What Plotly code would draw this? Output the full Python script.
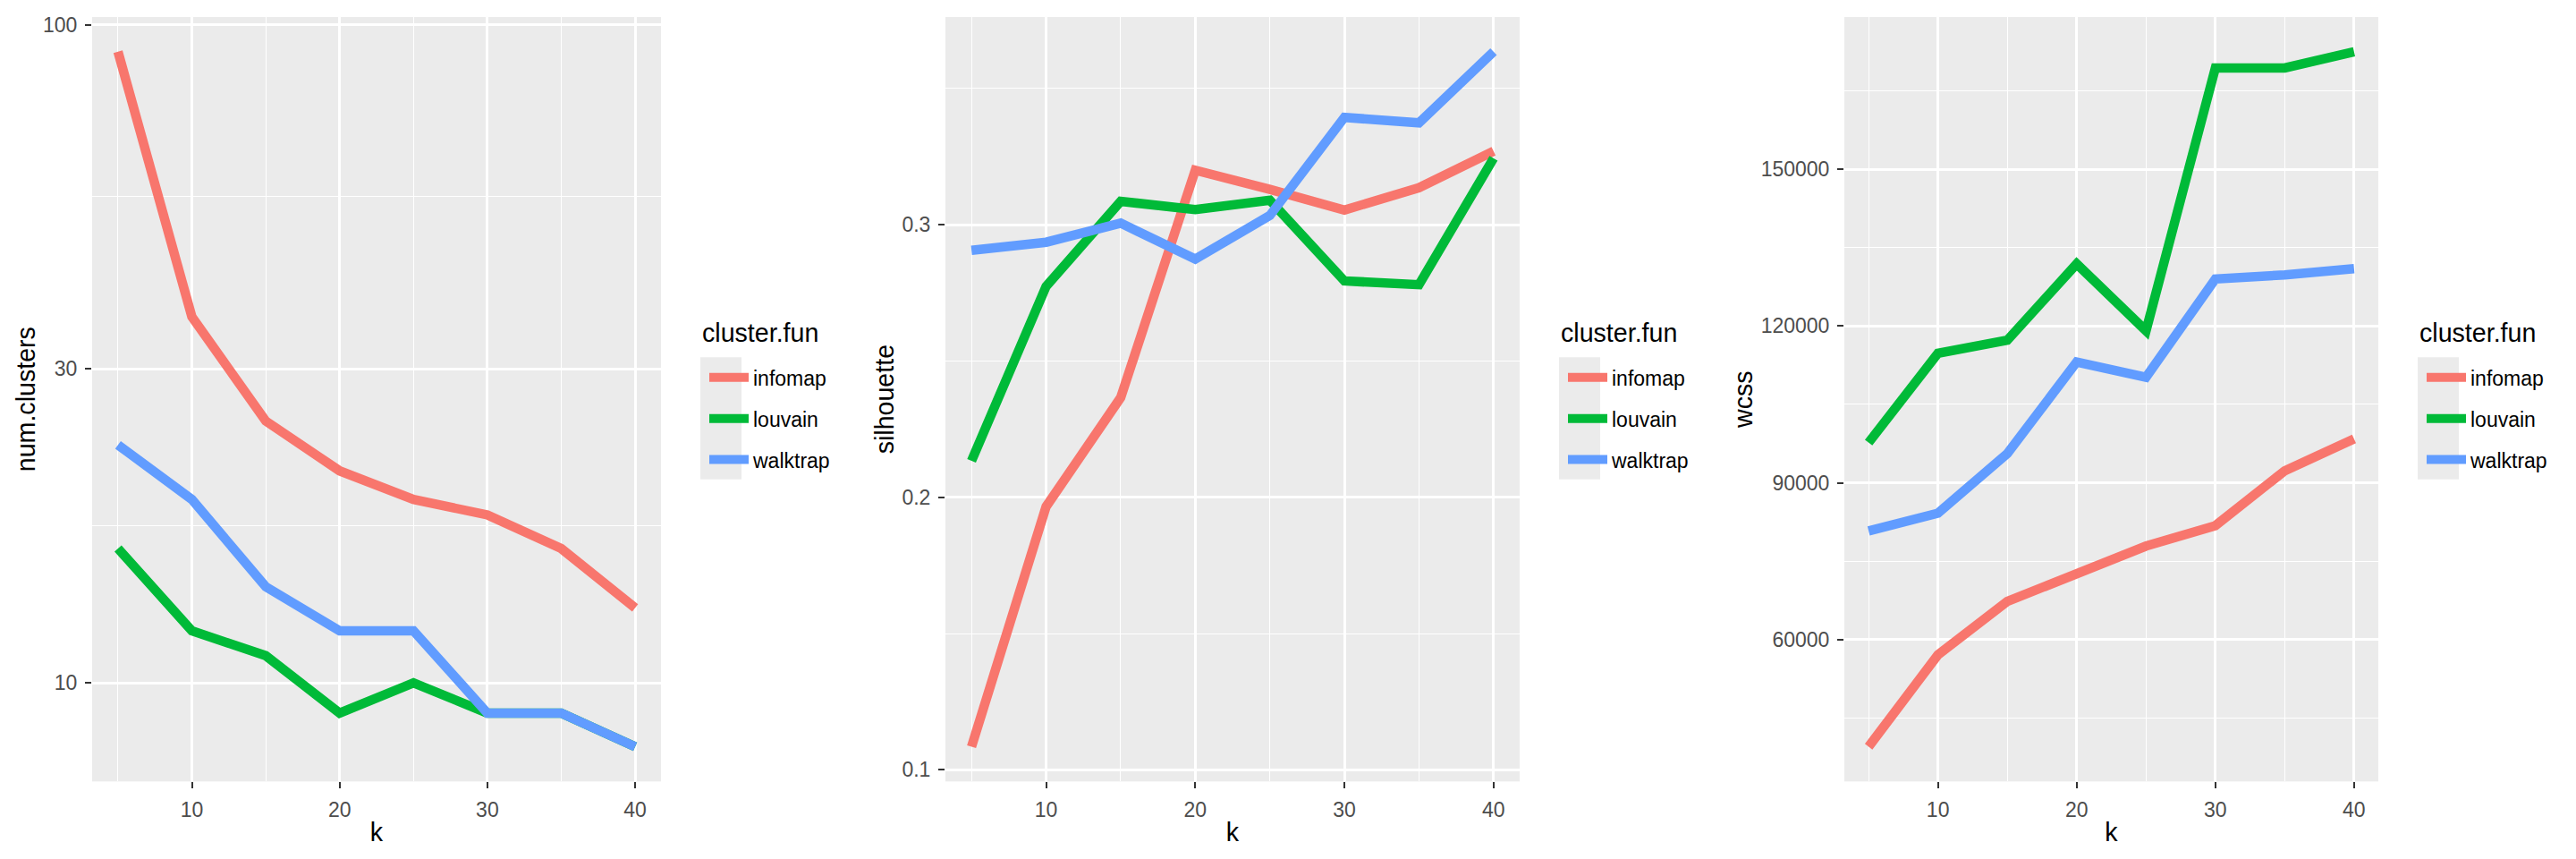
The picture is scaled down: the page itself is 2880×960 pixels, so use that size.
import numpy as np
import plotly.graph_objects as go

# ---------------- data ----------------
k = [5, 10, 15, 20, 25, 30, 35, 40]
methods = ["infomap", "louvain", "walktrap"]

num_clusters_infomap = [91, 36, 25, 21, 19, 18, 16, 13]
num_clusters_louvain = [16, 12, 11, 9, 10, 9, 9, 8]
num_clusters_walktrap = [23, 19, 14, 12, 12, 9, 9, 8]

silhouette_infomap = [0.1085, 0.1966, 0.2366, 0.3200, 0.3130, 0.3054, 0.3136, 0.3270]
silhouette_louvain = [0.2134, 0.2774, 0.3086, 0.3056, 0.3090, 0.2794, 0.2780, 0.3244]
silhouette_walktrap = [0.2906, 0.2936, 0.3006, 0.2874, 0.3034, 0.3394, 0.3374, 0.3635]

wcss_infomap = [39500, 57100, 67300, 72700, 77900, 81800, 92300, 98400]
wcss_louvain = [97700, 114800, 117300, 131900, 119100, 169400, 169400, 172500]
wcss_walktrap = [80800, 84200, 95600, 113100, 110200, 129000, 129800, 131000]

x_ticks = [10, 20, 30, 40]
x_minor = [5, 15, 25, 35]
nc_ticks = [10, 30, 100]
nc_ticktext = ["10", "30", "100"]
nc_minor = [float(np.sqrt(10 * 30)), float(np.sqrt(30 * 100))]
sil_ticks = [0.1, 0.2, 0.3]
sil_ticktext = ["0.1", "0.2", "0.3"]
sil_minor = [0.15, 0.25, 0.35]
wcss_ticks = [60000, 90000, 120000, 150000]
wcss_ticktext = ["60000", "90000", "120000", "150000"]
wcss_minor = [45000, 75000, 105000, 135000, 165000]

panels = [
    ("num.clusters", [num_clusters_infomap, num_clusters_louvain, num_clusters_walktrap], True,
     nc_ticks, nc_ticktext, nc_minor),
    ("silhouette", [silhouette_infomap, silhouette_louvain, silhouette_walktrap], False,
     sil_ticks, sil_ticktext, sil_minor),
    ("wcss", [wcss_infomap, wcss_louvain, wcss_walktrap], False,
     wcss_ticks, wcss_ticktext, wcss_minor),
]

# ---------------- style ----------------
colors = {"infomap": "#F8766D", "louvain": "#00BA38", "walktrap": "#619CFF"}
W, H = 2880, 960
FONT = "Liberation Sans, Arial, sans-serif"
panel_px = [(103, 739), (1057, 1699), (2062, 2659)]
top_px, bot_px = 15, 873
legend_left_px = [783, 1743, 2703]
key_top_px, key_bot_px, key_w_px = 397, 534, 46
LW = 10.5

fig = go.Figure()


def expand(vals, log=False):
    v = np.array(vals, dtype=float)
    if log:
        v = np.log10(v)
    lo, hi = v.min(), v.max()
    pad = (hi - lo) * 0.05
    return [lo - pad, hi + pad]


shapes = []
annotations = []
for i, (ytitle, series, is_log, yt, ytt, ym) in enumerate(panels):
    n = i + 1
    xa = "x" if n == 1 else f"x{n}"
    ya = "y" if n == 1 else f"y{n}"
    lg = "legend" if n == 1 else f"legend{n}"
    for m, vals in zip(methods, series):
        fig.add_trace(go.Scatter(
            x=k, y=vals, mode="lines", name=m,
            line=dict(color=colors[m], width=LW),
            xaxis=xa, yaxis=ya, legend=lg, legendgroup=f"{m}{n}",
            showlegend=True, hoverinfo="skip"))

    x0, x1 = panel_px[i]
    xkey = "xaxis" if n == 1 else f"xaxis{n}"
    ykey = "yaxis" if n == 1 else f"yaxis{n}"
    common = dict(
        showline=False, zeroline=False, showgrid=True,
        gridcolor="white", gridwidth=2.6,
        ticks="outside", ticklen=7, tickwidth=2.2, tickcolor="#333333",
        tickfont=dict(family=FONT, size=23, color="#4D4D4D"),
        ticklabelstandoff=4,
    )
    all_vals = sum(series, [])
    fig.update_layout({
        xkey: dict(
            domain=[x0 / W, x1 / W], anchor=ya,
            range=expand(k), tickmode="array", tickvals=x_ticks,
            minor=dict(tickmode="array", tickvals=x_minor, showgrid=True,
                       gridcolor="white", gridwidth=1.3),
            title=dict(text="k", font=dict(family=FONT, size=28.6, color="black"), standoff=3),
            **common),
        ykey: dict(
            domain=[1 - bot_px / H, 1 - top_px / H], anchor=xa,
            type="log" if is_log else "linear",
            range=expand(all_vals, is_log), tickmode="array", tickvals=yt, ticktext=ytt,
            minor=dict(tickmode="array", tickvals=ym, showgrid=True,
                       gridcolor="white", gridwidth=1.3),
            title=dict(text=ytitle, font=dict(family=FONT, size=28.6, color="black"), standoff=0),
            **common),
        lg: dict(
            x=(legend_left_px[i] + 5) / W, xanchor="left",
            y=1 - 398 / H, yanchor="top",
            bgcolor="rgba(0,0,0,0)", borderwidth=0,
            font=dict(family=FONT, size=23, color="black"),
            tracegroupgap=13, itemwidth=44, traceorder="grouped",
        ),
    })
    annotations.append(dict(
        text="cluster.fun", xref="paper", yref="paper",
        x=legend_left_px[i] / W, xanchor="left",
        y=1 - 370 / H, yanchor="middle", showarrow=False,
        font=dict(family=FONT, size=28.6, color="black")))
    shapes.append(dict(
        type="rect", xref="paper", yref="paper", layer="below",
        x0=legend_left_px[i] / W, x1=(legend_left_px[i] + key_w_px) / W,
        y0=1 - key_bot_px / H, y1=1 - key_top_px / H,
        fillcolor="#EBEBEB", line=dict(width=0)))

fig.update_layout(
    width=W, height=H, margin=dict(l=0, r=0, t=0, b=0),
    paper_bgcolor="white", plot_bgcolor="#EBEBEB",
    font=dict(family=FONT), shapes=shapes, annotations=annotations, hovermode=False,
)

fig.write_html("out.html", include_plotlyjs=True, config={"displayModeBar": False})
